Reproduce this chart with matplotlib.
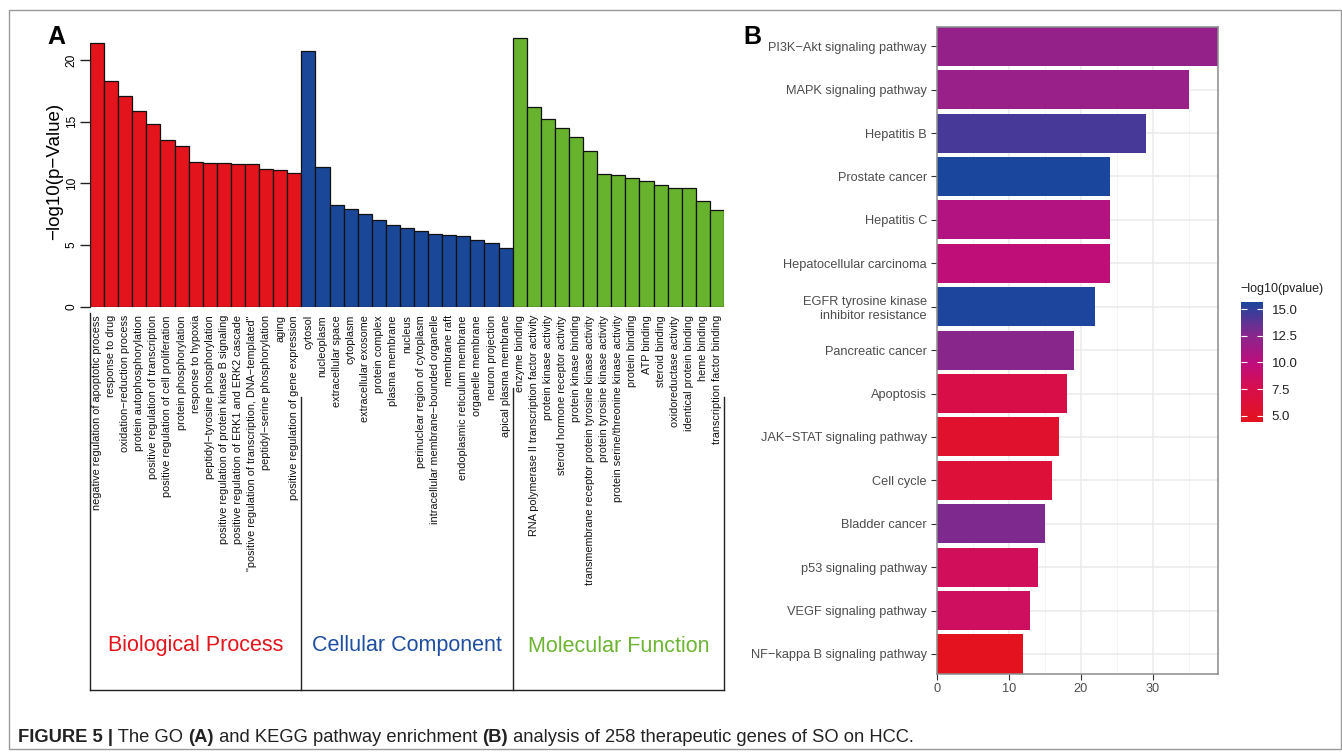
import numpy as np
import matplotlib
matplotlib.use('Agg')
import matplotlib.pyplot as plt
import matplotlib.transforms as mtransforms
from matplotlib.colors import LinearSegmentedColormap, Normalize
from matplotlib.cm import ScalarMappable
from matplotlib.patches import Rectangle
from matplotlib.lines import Line2D

plt.rcParams['font.family'] = ['Liberation Sans', 'DejaVu Sans']

# GO enrichment, -log10(p-value)
bp_terms = ['negative regulation of apoptotic process', 'response to drug',
            'oxidation\u2212reduction process', 'protein autophosphorylation',
            'positive regulation of transcription', 'positive regulation of cell proliferation',
            'protein phosphorylation', 'response to hypoxia',
            'peptidyl\u2212tyrosine phosphorylation', 'positive regulation of protein kinase B signaling',
            'positive regulation of ERK1 and ERK2 cascade',
            '"positive regulation of transcription, DNA\u2212templated"',
            'peptidyl\u2212serine phosphorylation', 'aging', 'positive regulation of gene expression']
bp_values = [21.4, 18.3, 17.1, 15.9, 14.8, 13.5, 13.0, 11.7, 11.68, 11.65, 11.6, 11.55, 11.2, 11.1, 10.85]

cc_terms = ['cytosol', 'nucleoplasm', 'extracellular space', 'cytoplasm', 'extracellular exosome',
            'protein complex', 'plasma membrane', 'nucleus', 'perinuclear region of cytoplasm',
            'intracellular membrane\u2212bounded organelle', 'membrane raft',
            'endoplasmic reticulum membrane', 'organelle membrane', 'neuron projection',
            'apical plasma membrane']
cc_values = [20.75, 11.35, 8.25, 7.9, 7.5, 7.0, 6.6, 6.4, 6.1, 5.87, 5.84, 5.76, 5.4, 5.15, 4.76]

mf_terms = ['enzyme binding', 'RNA polymerase II transcription factor activity',
            'protein kinase activity', 'steroid hormone receptor activity', 'protein kinase binding',
            'transmembrane receptor protein tyrosine kinase activity',
            'protein tyrosine kinase activity', 'protein serine/threonine kinase activity',
            'protein binding', 'ATP binding', 'steroid binding', 'oxidoreductase activity',
            'identical protein binding', 'heme binding', 'transcription factor binding']
mf_values = [21.8, 16.2, 15.2, 14.5, 13.8, 12.65, 10.75, 10.65, 10.4, 10.2, 9.85, 9.65, 9.6, 8.55, 7.85]

group_names = ['Biological Process', 'Cellular Component', 'Molecular Function']
group_colors = ['#E3141C', '#1B4798', '#67B32D']
group_text_colors = ['#E3141C', '#1F4EA0', '#6CB532']

# KEGG pathways, top to bottom
kegg_terms = ['PI3K\u2212Akt signaling pathway', 'MAPK signaling pathway', 'Hepatitis B',
              'Prostate cancer', 'Hepatitis C', 'Hepatocellular carcinoma',
              'EGFR tyrosine kinase\ninhibitor resistance', 'Pancreatic cancer', 'Apoptosis',
              'JAK\u2212STAT signaling pathway', 'Cell cycle', 'Bladder cancer',
              'p53 signaling pathway', 'VEGF signaling pathway', 'NF\u2212kappa B signaling pathway']
kegg_counts = [39, 35, 29, 24, 24, 24, 22, 19, 18, 17, 16, 15, 14, 13, 12]
kegg_logp = [12.0, 11.8, 14.4, 15.7, 10.5, 9.8, 15.6, 12.5, 7.3, 5.4, 6.3, 12.8, 8.2, 8.4, 4.44]
cbar_ticks = [5.0, 7.5, 10.0, 12.5, 15.0]

W, H = 1342, 754
fig = plt.figure(figsize=(W / 100, H / 100), dpi=100)


def box(l, t, r, b):
    return [l / W, 1 - b / H, (r - l) / W, (b - t) / H]


def fy(px):
    return 1 - px / H


# ---------------- panel A ----------------
terms = bp_terms + cc_terms + mf_terms
values = bp_values + cc_values + mf_values
sizes = [len(bp_terms), len(cc_terms), len(mf_terms)]
colors = sum([[c] * n for c, n in zip(group_colors, sizes)], [])
x = np.arange(len(terms))

axA = fig.add_axes(box(90, 35.4, 724, 306.7))
axA.bar(x, values, width=1.0, color=colors, edgecolor='#111111', linewidth=0.9)
axA.set_xlim(-0.5, len(terms) - 0.5)
axA.set_ylim(0, 22)
for s in ['top', 'right', 'bottom']:
    axA.spines[s].set_visible(False)
axA.spines['left'].set_bounds(0, 20)
axA.spines['left'].set_color('#222222')
axA.set_yticks([0, 5, 10, 15, 20])
axA.set_yticklabels(['0', '5', '10', '15', '20'], rotation=90, va='center', fontsize=8.6)
axA.tick_params(axis='y', length=7.2, width=1, color='#222222', pad=1.5)
axA.set_xticks(x)
axA.set_xticklabels(terms, rotation=90, fontsize=7.85, color='#111111')
axA.tick_params(axis='x', length=0, pad=6)
axA.set_ylabel('\u2212log10(p\u2212Value)', fontsize=13.5)
axA.yaxis.set_label_coords(-0.0426, 0.5)

# brackets under the term labels
tr = mtransforms.blended_transform_factory(axA.transData, fig.transFigure)
edges = np.cumsum([0] + sizes) - 0.5
tops = [313, 397, 388, 397]
bottom_px = 690
for e, t in zip(edges, tops):
    axA.add_line(Line2D([e, e], [fy(t), fy(bottom_px)], transform=tr, color='#222222',
                        lw=1.0, clip_on=False))
axA.add_line(Line2D([edges[0], edges[-1]], [fy(bottom_px), fy(bottom_px)], transform=tr,
                    color='#222222', lw=1.0, clip_on=False))
for i, (name, c) in enumerate(zip(group_names, group_text_colors)):
    axA.text((edges[i] + edges[i + 1]) / 2, fy(646), name, transform=tr, color=c,
             fontsize=15.5, ha='center', va='center')

fig.text(47 / W, fy(37), 'A', fontsize=18, fontweight='bold', ha='left', va='center')

# ---------------- panel B ----------------
cmap = LinearSegmentedColormap.from_list('pv', [
    (0.0, (228 / 255, 18 / 255, 30 / 255)),
    (0.27, (215 / 255, 14 / 255, 75 / 255)),
    (0.49, (190 / 255, 14 / 255, 125 / 255)),
    (0.715, (138 / 255, 38 / 255, 140 / 255)),
    (1.0, (27 / 255, 70 / 255, 158 / 255)),
])
norm = Normalize(vmin=min(kegg_logp), vmax=max(kegg_logp))

axB = fig.add_axes(box(936.7, 26.7, 1218, 673.5))
ypos = np.arange(len(kegg_terms))[::-1] + 1
axB.set_axisbelow(True)
axB.barh(ypos, kegg_counts, height=0.9, color=cmap(norm(np.array(kegg_logp))))
axB.set_xlim(0, max(kegg_counts))
axB.set_ylim(0.55, len(kegg_terms) + 0.45)
axB.set_xticks([0, 10, 20, 30])
axB.set_xticks([5, 15, 25, 35], minor=True)
axB.set_yticks(ypos)
axB.set_yticklabels(kegg_terms, fontsize=9.2, color='#4D4D4D')
axB.tick_params(axis='both', which='major', length=4, color='#333333', labelcolor='#4D4D4D',
                labelsize=9.2, pad=3)
axB.tick_params(axis='x', which='minor', length=0)
axB.grid(which='major', color='#EBEBEB', lw=1.1)
axB.grid(which='minor', axis='x', color='#F2F2F2', lw=0.6)
for s in axB.spines.values():
    s.set_color('#8C8C8C')
    s.set_linewidth(1.1)

fig.text(743 / W, fy(37), 'B', fontsize=18, fontweight='bold', ha='left', va='center')

# colour legend
cax = fig.add_axes(box(1240.7, 301.7, 1263.3, 421.7))
cb = fig.colorbar(ScalarMappable(norm=norm, cmap=cmap), cax=cax)
cb.outline.set_visible(False)
cb.set_ticks(cbar_ticks)
cb.set_ticklabels(['%.1f' % t for t in cbar_ticks])
cax.tick_params(direction='in', length=4, width=0.8, color='white', left=True, right=True,
                labelsize=9.5, labelcolor='#222222', pad=6)
fig.text(1240 / W, fy(289), '\u2212log10(pvalue)', fontsize=9, color='#222222',
         ha='left', va='center')

# ---------------- frame and caption ----------------
fig.patches.append(Rectangle((9 / W, fy(749)), (1341 - 9) / W, (749 - 10) / H,
                             transform=fig.transFigure, fill=False, edgecolor='#9A9A9A', lw=1.0))

caption = [('FIGURE 5 |', 'bold'), (' The GO ', 'normal'), ('(A)', 'bold'),
           (' and KEGG pathway enrichment ', 'normal'), ('(B)', 'bold'),
           (' analysis of 258 therapeutic genes of SO on HCC.', 'normal')]
renderer = fig.canvas.get_renderer()
xpos = 18
for txt, wt in caption:
    t = fig.text(xpos / W, fy(737), txt, fontsize=13.2, fontweight=wt, color='#222222',
                 ha='left', va='center')
    xpos += t.get_window_extent(renderer).width

fig.savefig('out.png', dpi=100)
